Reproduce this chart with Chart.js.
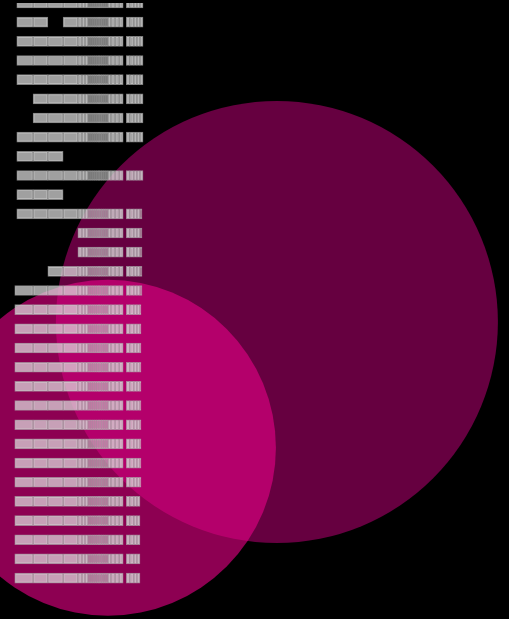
<!DOCTYPE html>
<html>
<head>
<meta charset="utf-8">
<script src="https://cdn.jsdelivr.net/npm/chart.js@4.4.1/dist/chart.umd.min.js"></script>
<style>
  html, body { margin: 0; padding: 0; background: #000; }
  #wrap { width: 509px; height: 619px; }
</style>
</head>
<body>
<div id="wrap"><canvas id="chart"></canvas></div>
<script>
// filas (categorías) - las dos últimas van vacías
const rowLabels = Array.from({ length: 33 }, (_, i) => 'F' + (i + 1));

// inicio y fin de cada fila gris
const rowStart = [3.3, 3.3, 3.3, 3.3, 3.3, 6.5, 6.5, 3.3, 3.3, 3.3, 3.3, 3.3, 15.3, 15.3, 9.4, 2.9,
  2.9, 2.9, 2.9, 2.9, 2.9, 2.9, 2.9, 2.9, 2.9, 2.9, 2.9, 2.9, 2.9, 2.9, 2.9, null, null];
const rowEnd = [28.1, 28.1, 28.1, 28.1, 28.1, 28.1, 28.1, 28.1, 12.4, 28.1, 12.4, 27.9, 27.9, 27.9, 27.9, 27.9,
  27.7, 27.7, 27.7, 27.7, 27.7, 27.7, 27.7, 27.7, 27.7, 27.7, 27.5, 27.5, 27.5, 27.5, 27.5, null, null];
const rowSkip = [null, 2]; // segmento que falta en la fila 2

// cortes de los segmentos
const segEdges = [3.3, 6.5, 9.4, 12.4, 15.3, 16.1, 16.7, 17.3, 17.7, 18.1, 18.5, 18.9, 19.3, 19.6,
  20.0, 20.4, 20.8, 21.2, 21.8, 22.6, 23.4, 24.2];
const tailEdges = [24.8, 25.5, 26.3, 26.9, 27.5, 28.1];

// burbujas
const bigBubble = [{ x: 54.4, y: 48.0, r: 221 }];
const smallBubble = [{ x: 21.2, y: 27.5, r: 168 }];

function segmentData(lo0, hi0, first) {
  return rowLabels.map((_, row) => {
    const start = rowStart[row], end = rowEnd[row];
    if (start == null) return null;
    const lo = first ? start : Math.max(lo0, start);
    const hi = Math.min(hi0, end);
    if (hi <= lo) return null;
    return [lo, hi];
  });
}

const barSets = [];
for (let i = 0; i < segEdges.length - 1; i++) {
  const data = segmentData(segEdges[i], segEdges[i + 1], i === 0);
  rowSkip.forEach((s, row) => { if (s === i) data[row] = null; });
  barSets.push({ data: data });
}
for (let i = 0; i < tailEdges.length - 1; i++) {
  barSets.push({ data: segmentData(tailEdges[i], tailEdges[i + 1], false) });
}

const datasets = barSets.map(s => ({
  type: 'bar',
  indexAxis: 'y',
  data: s.data,
  xAxisID: 'x',
  yAxisID: 'y',
  grouped: false,
  barThickness: 10,
  backgroundColor: 'rgba(222, 222, 222, 0.72)',
  borderColor: 'rgba(175, 175, 175, 0.72)',
  borderWidth: 1,
  borderSkipped: false,
  order: 0
}));

datasets.push({
  type: 'bubble',
  data: smallBubble,
  xAxisID: 'x2',
  yAxisID: 'y2',
  backgroundColor: 'rgba(230, 0, 134, 0.61)',
  borderWidth: 0,
  clip: false,
  order: 1
});
datasets.push({
  type: 'bubble',
  data: bigBubble,
  xAxisID: 'x2',
  yAxisID: 'y2',
  backgroundColor: 'rgba(232, 0, 145, 0.44)',
  borderWidth: 0,
  clip: false,
  order: 2
});

new Chart(document.getElementById('chart'), {
  type: 'bar',
  data: { labels: rowLabels, datasets: datasets },
  options: {
    responsive: true,
    maintainAspectRatio: false,
    animation: false,
    layout: { autoPadding: false, padding: { top: 3, bottom: 2.6, left: 0, right: 0 } },
    plugins: { legend: { display: false }, tooltip: { enabled: false } },
    scales: {
      x: { type: 'linear', min: 0, max: 100, offset: false, display: false },
      y: { type: 'category', offset: false, display: false },
      x2: { type: 'linear', axis: 'x', min: 0, max: 100, offset: false, display: false },
      y2: { type: 'linear', axis: 'y', min: 0, max: 100, offset: false, display: false }
    }
  }
});
</script>
</body>
</html>
